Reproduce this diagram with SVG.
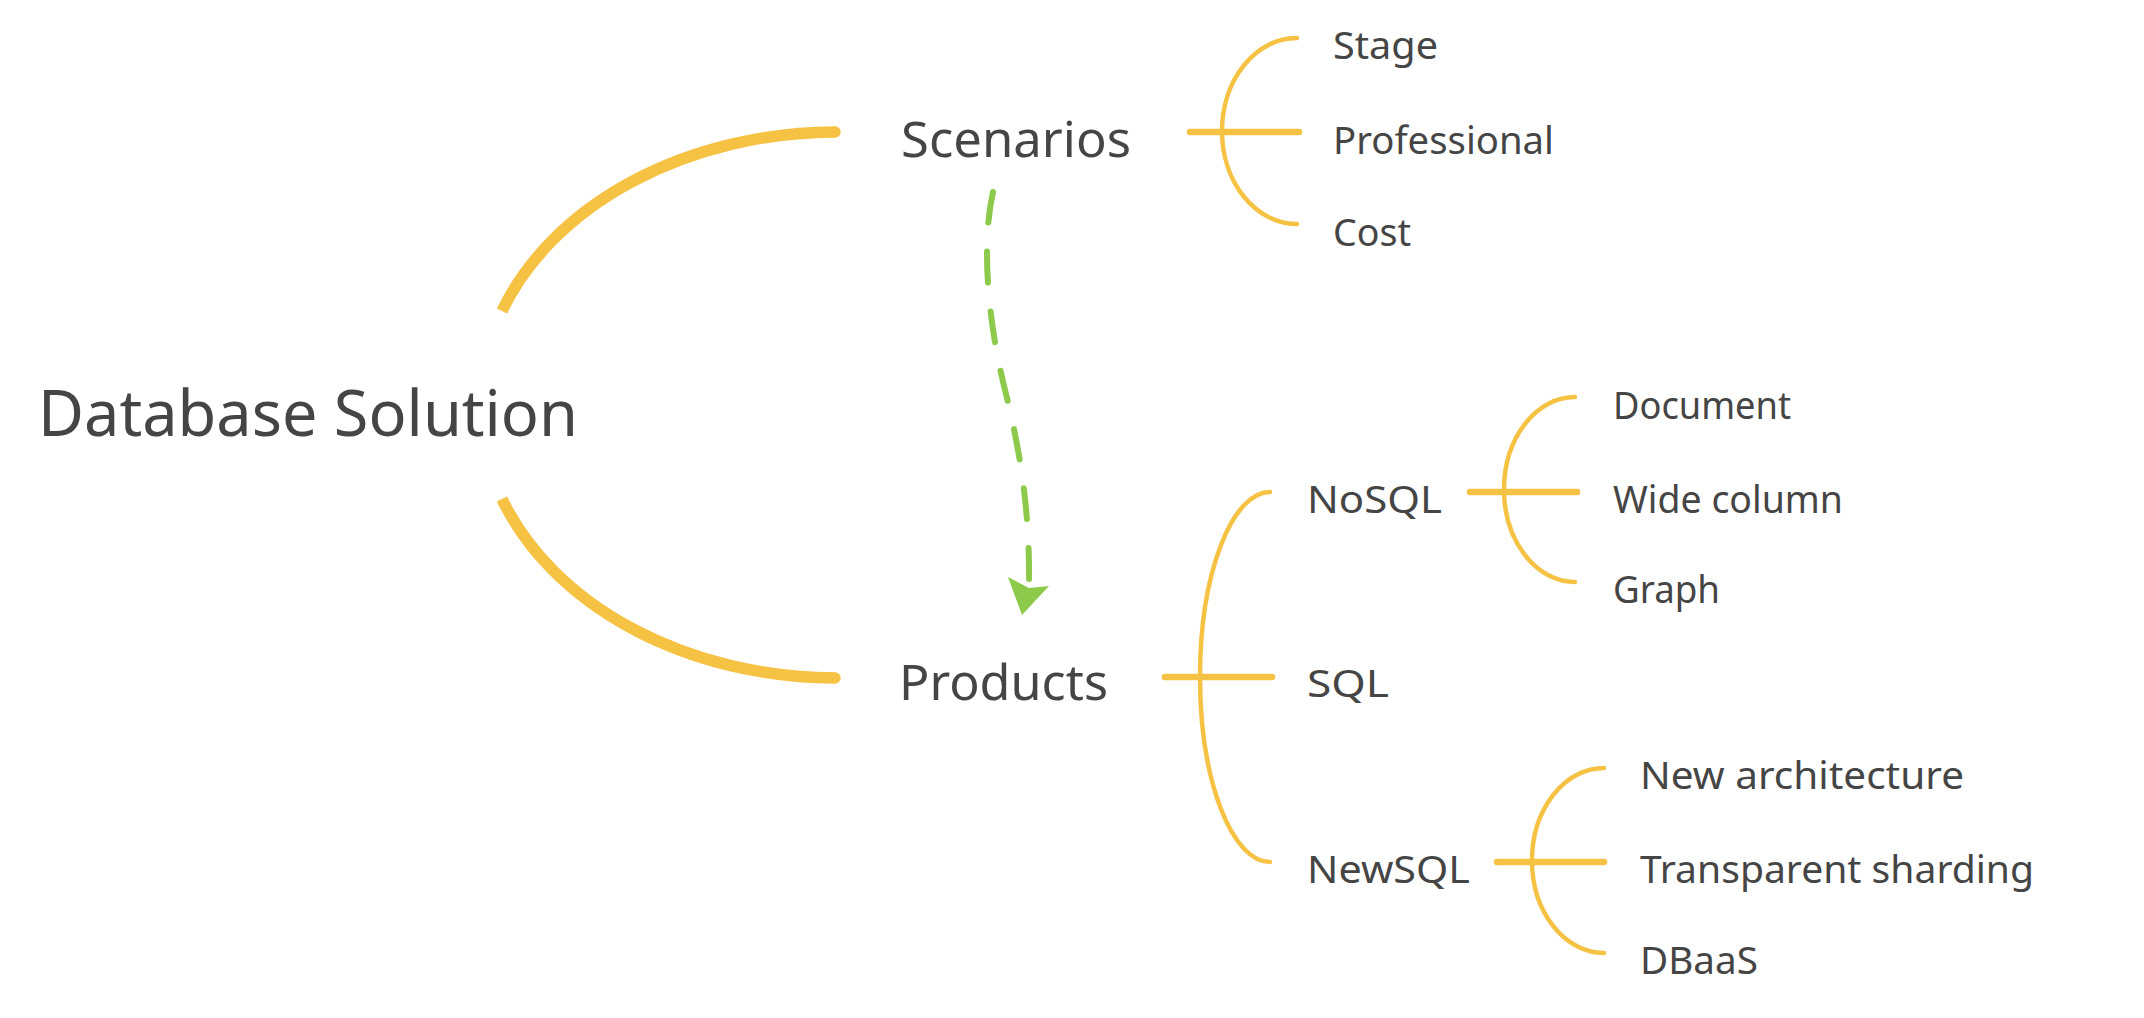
<svg xmlns="http://www.w3.org/2000/svg" width="2144" height="1018" viewBox="0 0 2144 1018">
<style>
text{font-family:"Noto Sans","Liberation Sans",sans-serif;fill:#454545}
.big{font-size:64px}
.mid{font-size:50px}
.sm{font-size:39px}
.main{fill:none;stroke:#F6C244;stroke-width:11.5}
.br{fill:none;stroke:#F6C244;stroke-width:4.5;stroke-linecap:round}
.ln{fill:none;stroke:#F6C244;stroke-width:6.5;stroke-linecap:round}
.dash{fill:none;stroke:#8DC94A;stroke-width:6;stroke-linecap:round;stroke-dasharray:31 29}
</style>
<rect width="2144" height="1018" fill="#ffffff"/>
<g id="connectors">
<path class="main" d="M502,311 A357,273 0 0 1 835,132" stroke-linecap="butt"/>
<path class="main" d="M835,132 L835,132" stroke-linecap="round"/>
<path class="main" d="M502,499 A357,273 0 0 0 835,678" stroke-linecap="butt"/>
<path class="main" d="M835,678 L835,678" stroke-linecap="round"/>
<line class="ln" x1="1190" y1="132" x2="1299" y2="132"/>
<path class="br" d="M1297,38 A75,93 0 0 0 1297,224"/>
<line class="ln" x1="1165" y1="677" x2="1272" y2="677"/>
<path class="br" d="M1270,492 A70,185 0 0 0 1270,862"/>
<line class="ln" x1="1470" y1="492" x2="1577" y2="492"/>
<path class="br" d="M1575,397 A71,92.5 0 0 0 1575,582"/>
<line class="ln" x1="1497" y1="862" x2="1604" y2="862"/>
<path class="br" d="M1604,768 A72,92.5 0 0 0 1604,953"/>
<path class="dash" d="M993,192 C980,250 990,330 1005,390 C1020,450 1030,510 1029,586"/>
<path d="M1008,577 L1029,588 L1049,586 L1022,615 Z" fill="#8DC94A"/>
</g>
<g id="root"><text class="big" x="38" y="436" textLength="540" lengthAdjust="spacingAndGlyphs">Database Solution</text></g>
<g id="scenarios"><text class="mid" x="901" y="157" textLength="230" lengthAdjust="spacingAndGlyphs">Scenarios</text></g>
<g id="stage"><text class="sm" x="1333" y="59" textLength="105" lengthAdjust="spacingAndGlyphs">Stage</text></g>
<g id="professional"><text class="sm" x="1333" y="154" textLength="221" lengthAdjust="spacingAndGlyphs">Professional</text></g>
<g id="cost"><text class="sm" x="1333" y="246" textLength="78" lengthAdjust="spacingAndGlyphs">Cost</text></g>
<g id="products"><text class="mid" x="899" y="700" textLength="209" lengthAdjust="spacingAndGlyphs">Products</text></g>
<g id="nosql"><text class="sm" x="1307" y="513" textLength="135" lengthAdjust="spacingAndGlyphs">NoSQL</text></g>
<g id="sql"><text class="sm" x="1307" y="697" textLength="82" lengthAdjust="spacingAndGlyphs">SQL</text></g>
<g id="newsql"><text class="sm" x="1307" y="883" textLength="163" lengthAdjust="spacingAndGlyphs">NewSQL</text></g>
<g id="document"><text class="sm" x="1613" y="419" textLength="178" lengthAdjust="spacingAndGlyphs">Document</text></g>
<g id="widecolumn"><text class="sm" x="1613" y="513" textLength="230" lengthAdjust="spacingAndGlyphs">Wide column</text></g>
<g id="graph"><text class="sm" x="1613" y="603" textLength="107" lengthAdjust="spacingAndGlyphs">Graph</text></g>
<g id="newarch"><text class="sm" x="1640" y="789" textLength="324" lengthAdjust="spacingAndGlyphs">New architecture</text></g>
<g id="sharding"><text class="sm" x="1640" y="883" textLength="394" lengthAdjust="spacingAndGlyphs">Transparent sharding</text></g>
<g id="dbaas"><text class="sm" x="1640" y="974" textLength="118" lengthAdjust="spacingAndGlyphs">DBaaS</text></g>
</svg>
